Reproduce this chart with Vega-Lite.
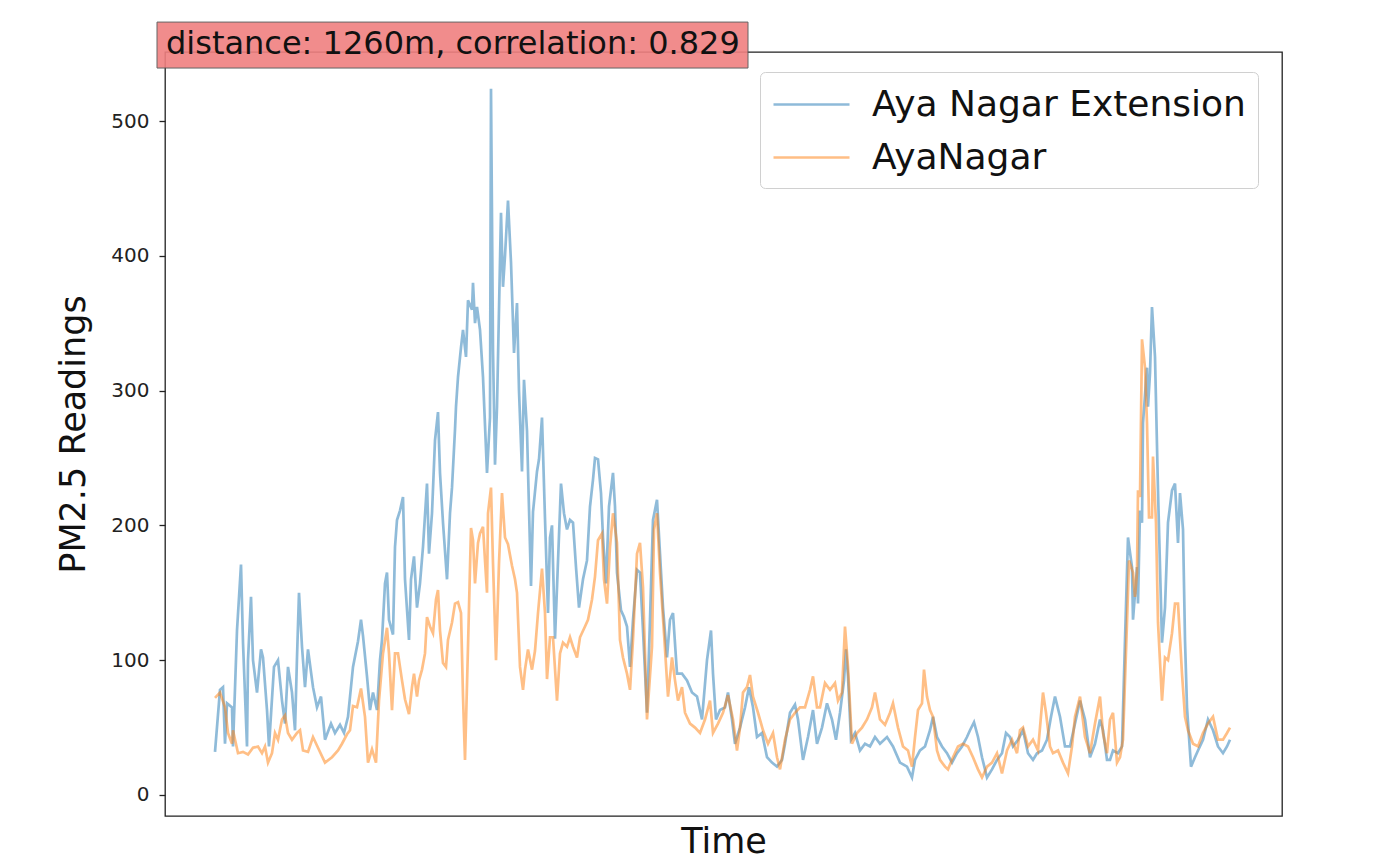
{
  "$schema": "https://vega.github.io/schema/vega-lite/v6.json",
  "width": 1117,
  "height": 764,
  "autosize": {"type": "none"},
  "padding": {"left": 165, "top": 52, "right": 102, "bottom": 52},
  "background": "white",
  "config": {"view": {"stroke": "#222", "strokeWidth": 1.3}, "font": "DejaVu Sans"},
  "datasets": {
    "ext": [
      {"t":2,"pm":32},{"t":7,"pm":78},{"t":10,"pm":80},{"t":12,"pm":38},{"t":14,"pm":68},{"t":19,"pm":65},{"t":20,"pm":36},{"t":24,"pm":122},{"t":28,"pm":171},{"t":30,"pm":113},{"t":34,"pm":36},{"t":35,"pm":100},{"t":38,"pm":147},{"t":40,"pm":100},{"t":44,"pm":76},{"t":48,"pm":108},{"t":50,"pm":102},{"t":54,"pm":63},{"t":56,"pm":36},{"t":61,"pm":95},{"t":65,"pm":100},{"t":69,"pm":70},{"t":72,"pm":53},{"t":75,"pm":95},{"t":79,"pm":76},{"t":82,"pm":48},{"t":84,"pm":102},{"t":86,"pm":150},{"t":89,"pm":110},{"t":92,"pm":80},{"t":95,"pm":108},{"t":100,"pm":80},{"t":104,"pm":65},{"t":108,"pm":73},{"t":112,"pm":41},{"t":118,"pm":53},{"t":122,"pm":46},{"t":127,"pm":52},{"t":131,"pm":46},{"t":135,"pm":58},{"t":140,"pm":95},{"t":145,"pm":114},{"t":148,"pm":130},{"t":150,"pm":118},{"t":154,"pm":88},{"t":157,"pm":63},{"t":160,"pm":76},{"t":164,"pm":63},{"t":167,"pm":100},{"t":169,"pm":115},{"t":172,"pm":157},{"t":174,"pm":165},{"t":176,"pm":130},{"t":180,"pm":119},{"t":182,"pm":184},{"t":184,"pm":204},{"t":187,"pm":211},{"t":190,"pm":221},{"t":192,"pm":160},{"t":196,"pm":115},{"t":198,"pm":160},{"t":201,"pm":177},{"t":204,"pm":139},{"t":207,"pm":157},{"t":210,"pm":184},{"t":214,"pm":231},{"t":216,"pm":179},{"t":219,"pm":209},{"t":222,"pm":263},{"t":225,"pm":284},{"t":227,"pm":239},{"t":230,"pm":202},{"t":234,"pm":160},{"t":237,"pm":209},{"t":239,"pm":228},{"t":242,"pm":271},{"t":243,"pm":288},{"t":245,"pm":310},{"t":248,"pm":332},{"t":250,"pm":345},{"t":253,"pm":325},{"t":255,"pm":367},{"t":259,"pm":360},{"t":260,"pm":380},{"t":262,"pm":350},{"t":264,"pm":362},{"t":267,"pm":345},{"t":270,"pm":310},{"t":274,"pm":239},{"t":277,"pm":280},{"t":278,"pm":524},{"t":280,"pm":330},{"t":282,"pm":245},{"t":284,"pm":288},{"t":288,"pm":432},{"t":290,"pm":377},{"t":292,"pm":400},{"t":295,"pm":441},{"t":298,"pm":395},{"t":301,"pm":328},{"t":304,"pm":365},{"t":306,"pm":300},{"t":309,"pm":240},{"t":311,"pm":308},{"t":314,"pm":270},{"t":318,"pm":155},{"t":320,"pm":210},{"t":324,"pm":240},{"t":326,"pm":249},{"t":329,"pm":280},{"t":332,"pm":205},{"t":335,"pm":135},{"t":337,"pm":191},{"t":339,"pm":200},{"t":342,"pm":116},{"t":344,"pm":154},{"t":348,"pm":231},{"t":351,"pm":209},{"t":354,"pm":197},{"t":357,"pm":204},{"t":360,"pm":202},{"t":363,"pm":169},{"t":366,"pm":139},{"t":370,"pm":160},{"t":374,"pm":174},{"t":377,"pm":214},{"t":380,"pm":234},{"t":382,"pm":250},{"t":385,"pm":249},{"t":388,"pm":224},{"t":390,"pm":191},{"t":393,"pm":157},{"t":396,"pm":214},{"t":400,"pm":239},{"t":402,"pm":214},{"t":404,"pm":165},{"t":408,"pm":137},{"t":411,"pm":132},{"t":414,"pm":125},{"t":417,"pm":95},{"t":420,"pm":130},{"t":424,"pm":167},{"t":427,"pm":165},{"t":430,"pm":122},{"t":434,"pm":61},{"t":437,"pm":130},{"t":440,"pm":204},{"t":444,"pm":219},{"t":447,"pm":179},{"t":450,"pm":139},{"t":454,"pm":102},{"t":457,"pm":130},{"t":460,"pm":135},{"t":464,"pm":90},{"t":469,"pm":90},{"t":474,"pm":85},{"t":479,"pm":76},{"t":484,"pm":73},{"t":489,"pm":56},{"t":494,"pm":100},{"t":498,"pm":122},{"t":500,"pm":90},{"t":503,"pm":56},{"t":507,"pm":63},{"t":512,"pm":65},{"t":515,"pm":76},{"t":519,"pm":56},{"t":522,"pm":38},{"t":527,"pm":50},{"t":532,"pm":65},{"t":536,"pm":80},{"t":540,"pm":65},{"t":544,"pm":43},{"t":549,"pm":46},{"t":554,"pm":28},{"t":559,"pm":24},{"t":564,"pm":21},{"t":569,"pm":26},{"t":572,"pm":38},{"t":577,"pm":61},{"t":582,"pm":67},{"t":585,"pm":56},{"t":590,"pm":26},{"t":595,"pm":43},{"t":600,"pm":63},{"t":604,"pm":38},{"t":609,"pm":50},{"t":614,"pm":68},{"t":619,"pm":56},{"t":623,"pm":41},{"t":627,"pm":61},{"t":631,"pm":85},{"t":633,"pm":108},{"t":635,"pm":88},{"t":638,"pm":41},{"t":642,"pm":46},{"t":647,"pm":33},{"t":652,"pm":38},{"t":657,"pm":36},{"t":662,"pm":43},{"t":667,"pm":38},{"t":674,"pm":43},{"t":680,"pm":36},{"t":687,"pm":24},{"t":694,"pm":21},{"t":699,"pm":13},{"t":702,"pm":26},{"t":707,"pm":33},{"t":712,"pm":36},{"t":717,"pm":48},{"t":720,"pm":58},{"t":724,"pm":43},{"t":729,"pm":36},{"t":734,"pm":31},{"t":739,"pm":24},{"t":744,"pm":31},{"t":749,"pm":36},{"t":754,"pm":43},{"t":757,"pm":48},{"t":761,"pm":54},{"t":765,"pm":43},{"t":769,"pm":28},{"t":774,"pm":13},{"t":779,"pm":19},{"t":784,"pm":26},{"t":789,"pm":31},{"t":793,"pm":46},{"t":797,"pm":43},{"t":800,"pm":36},{"t":805,"pm":41},{"t":810,"pm":48},{"t":815,"pm":31},{"t":820,"pm":26},{"t":824,"pm":31},{"t":829,"pm":33},{"t":834,"pm":41},{"t":838,"pm":58},{"t":842,"pm":73},{"t":847,"pm":58},{"t":852,"pm":36},{"t":857,"pm":36},{"t":862,"pm":53},{"t":867,"pm":70},{"t":872,"pm":56},{"t":877,"pm":28},{"t":882,"pm":38},{"t":887,"pm":56},{"t":890,"pm":48},{"t":894,"pm":26},{"t":897,"pm":26},{"t":900,"pm":33},{"t":905,"pm":31},{"t":909,"pm":36},{"t":912,"pm":115},{"t":915,"pm":191},{"t":919,"pm":169},{"t":920,"pm":130},{"t":924,"pm":169},{"t":925,"pm":142},{"t":927,"pm":211},{"t":929,"pm":202},{"t":930,"pm":276},{"t":934,"pm":317},{"t":935,"pm":288},{"t":937,"pm":313},{"t":939,"pm":362},{"t":942,"pm":325},{"t":945,"pm":226},{"t":949,"pm":113},{"t":952,"pm":139},{"t":955,"pm":202},{"t":959,"pm":226},{"t":962,"pm":231},{"t":965,"pm":187},{"t":967,"pm":224},{"t":970,"pm":197},{"t":972,"pm":115},{"t":974,"pm":65},{"t":978,"pm":21},{"t":982,"pm":28},{"t":985,"pm":33},{"t":990,"pm":41},{"t":995,"pm":56},{"t":1000,"pm":48},{"t":1005,"pm":36},{"t":1010,"pm":31},{"t":1014,"pm":36},{"t":1017,"pm":41}
    ],
    "aya": [
      {"t":2,"pm":72},{"t":7,"pm":76},{"t":12,"pm":65},{"t":15,"pm":46},{"t":19,"pm":38},{"t":20,"pm":48},{"t":25,"pm":31},{"t":30,"pm":32},{"t":35,"pm":30},{"t":40,"pm":35},{"t":45,"pm":36},{"t":49,"pm":31},{"t":52,"pm":36},{"t":55,"pm":24},{"t":59,"pm":31},{"t":62,"pm":46},{"t":65,"pm":41},{"t":69,"pm":56},{"t":72,"pm":59},{"t":75,"pm":46},{"t":79,"pm":41},{"t":84,"pm":46},{"t":87,"pm":48},{"t":90,"pm":33},{"t":95,"pm":32},{"t":100,"pm":43},{"t":105,"pm":35},{"t":112,"pm":24},{"t":119,"pm":28},{"t":125,"pm":33},{"t":129,"pm":38},{"t":134,"pm":45},{"t":137,"pm":48},{"t":140,"pm":66},{"t":144,"pm":65},{"t":148,"pm":79},{"t":152,"pm":58},{"t":155,"pm":24},{"t":159,"pm":34},{"t":163,"pm":24},{"t":166,"pm":70},{"t":170,"pm":105},{"t":174,"pm":124},{"t":176,"pm":105},{"t":179,"pm":63},{"t":182,"pm":105},{"t":185,"pm":105},{"t":189,"pm":85},{"t":192,"pm":71},{"t":196,"pm":60},{"t":199,"pm":80},{"t":201,"pm":90},{"t":204,"pm":73},{"t":206,"pm":85},{"t":209,"pm":93},{"t":212,"pm":105},{"t":214,"pm":132},{"t":217,"pm":125},{"t":220,"pm":120},{"t":223,"pm":145},{"t":225,"pm":152},{"t":227,"pm":122},{"t":230,"pm":98},{"t":233,"pm":95},{"t":235,"pm":115},{"t":239,"pm":128},{"t":242,"pm":142},{"t":245,"pm":143},{"t":248,"pm":135},{"t":250,"pm":73},{"t":252,"pm":26},{"t":255,"pm":110},{"t":258,"pm":198},{"t":260,"pm":189},{"t":262,"pm":157},{"t":265,"pm":187},{"t":267,"pm":194},{"t":270,"pm":199},{"t":272,"pm":174},{"t":274,"pm":150},{"t":275,"pm":209},{"t":278,"pm":228},{"t":280,"pm":172},{"t":283,"pm":100},{"t":286,"pm":172},{"t":289,"pm":224},{"t":292,"pm":191},{"t":295,"pm":186},{"t":299,"pm":170},{"t":302,"pm":160},{"t":304,"pm":150},{"t":307,"pm":95},{"t":310,"pm":78},{"t":312,"pm":93},{"t":315,"pm":108},{"t":319,"pm":93},{"t":322,"pm":107},{"t":325,"pm":135},{"t":329,"pm":168},{"t":332,"pm":135},{"t":334,"pm":86},{"t":337,"pm":117},{"t":340,"pm":117},{"t":344,"pm":70},{"t":347,"pm":105},{"t":350,"pm":113},{"t":354,"pm":110},{"t":357,"pm":117},{"t":360,"pm":110},{"t":364,"pm":102},{"t":367,"pm":117},{"t":372,"pm":125},{"t":375,"pm":130},{"t":379,"pm":145},{"t":382,"pm":162},{"t":385,"pm":189},{"t":389,"pm":194},{"t":391,"pm":160},{"t":394,"pm":142},{"t":397,"pm":184},{"t":400,"pm":209},{"t":404,"pm":187},{"t":407,"pm":115},{"t":410,"pm":102},{"t":414,"pm":90},{"t":417,"pm":78},{"t":420,"pm":115},{"t":424,"pm":179},{"t":427,"pm":187},{"t":430,"pm":154},{"t":434,"pm":56},{"t":439,"pm":110},{"t":441,"pm":197},{"t":444,"pm":209},{"t":447,"pm":165},{"t":451,"pm":120},{"t":455,"pm":73},{"t":459,"pm":102},{"t":462,"pm":85},{"t":465,"pm":70},{"t":469,"pm":80},{"t":472,"pm":61},{"t":477,"pm":53},{"t":482,"pm":50},{"t":487,"pm":46},{"t":492,"pm":56},{"t":497,"pm":70},{"t":500,"pm":46},{"t":505,"pm":53},{"t":510,"pm":61},{"t":515,"pm":74},{"t":520,"pm":56},{"t":524,"pm":33},{"t":527,"pm":50},{"t":530,"pm":76},{"t":534,"pm":80},{"t":537,"pm":89},{"t":540,"pm":73},{"t":545,"pm":61},{"t":550,"pm":48},{"t":555,"pm":38},{"t":560,"pm":46},{"t":564,"pm":28},{"t":567,"pm":19},{"t":572,"pm":41},{"t":577,"pm":56},{"t":582,"pm":61},{"t":587,"pm":65},{"t":592,"pm":65},{"t":597,"pm":78},{"t":600,"pm":88},{"t":604,"pm":65},{"t":607,"pm":65},{"t":612,"pm":83},{"t":617,"pm":78},{"t":622,"pm":83},{"t":625,"pm":70},{"t":629,"pm":76},{"t":632,"pm":125},{"t":635,"pm":95},{"t":639,"pm":38},{"t":644,"pm":46},{"t":649,"pm":50},{"t":654,"pm":56},{"t":659,"pm":65},{"t":662,"pm":76},{"t":667,"pm":56},{"t":672,"pm":52},{"t":677,"pm":61},{"t":680,"pm":68},{"t":685,"pm":50},{"t":690,"pm":36},{"t":695,"pm":33},{"t":699,"pm":21},{"t":702,"pm":43},{"t":705,"pm":63},{"t":709,"pm":68},{"t":711,"pm":93},{"t":714,"pm":73},{"t":717,"pm":63},{"t":720,"pm":58},{"t":724,"pm":33},{"t":727,"pm":26},{"t":732,"pm":21},{"t":735,"pm":19},{"t":740,"pm":28},{"t":745,"pm":36},{"t":750,"pm":38},{"t":755,"pm":36},{"t":760,"pm":28},{"t":765,"pm":19},{"t":769,"pm":13},{"t":774,"pm":21},{"t":779,"pm":24},{"t":784,"pm":31},{"t":789,"pm":16},{"t":794,"pm":33},{"t":799,"pm":41},{"t":804,"pm":31},{"t":807,"pm":48},{"t":810,"pm":50},{"t":815,"pm":36},{"t":820,"pm":41},{"t":825,"pm":33},{"t":830,"pm":76},{"t":833,"pm":61},{"t":837,"pm":36},{"t":840,"pm":31},{"t":845,"pm":33},{"t":850,"pm":24},{"t":855,"pm":16},{"t":859,"pm":36},{"t":862,"pm":58},{"t":867,"pm":73},{"t":872,"pm":43},{"t":877,"pm":31},{"t":882,"pm":53},{"t":887,"pm":73},{"t":890,"pm":46},{"t":894,"pm":31},{"t":897,"pm":56},{"t":900,"pm":61},{"t":904,"pm":24},{"t":907,"pm":28},{"t":910,"pm":41},{"t":914,"pm":128},{"t":916,"pm":174},{"t":920,"pm":165},{"t":922,"pm":147},{"t":924,"pm":165},{"t":925,"pm":226},{"t":927,"pm":221},{"t":929,"pm":338},{"t":932,"pm":317},{"t":934,"pm":276},{"t":936,"pm":206},{"t":939,"pm":206},{"t":940,"pm":251},{"t":943,"pm":202},{"t":945,"pm":128},{"t":949,"pm":70},{"t":952,"pm":102},{"t":955,"pm":100},{"t":959,"pm":120},{"t":962,"pm":142},{"t":965,"pm":142},{"t":969,"pm":90},{"t":972,"pm":58},{"t":975,"pm":48},{"t":980,"pm":38},{"t":985,"pm":36},{"t":990,"pm":46},{"t":995,"pm":53},{"t":1000,"pm":58},{"t":1005,"pm":41},{"t":1010,"pm":41},{"t":1014,"pm":46},{"t":1017,"pm":50}
    ]
  },
  "layer": [
    {
      "data": {"name": "ext"},
      "mark": {"type": "line", "strokeWidth": 2.7, "opacity": 0.5},
      "encoding": {
        "x": {"field": "t", "type": "quantitative",
              "scale": {"domain": [-48, 1069], "nice": false, "zero": false},
              "axis": {"ticks": false, "labels": false, "domain": false, "grid": false,
                       "title": "Time", "titleFontSize": 35, "titleFont": "DejaVu Sans",
                       "titleFontWeight": "normal", "titleColor": "#111", "titlePadding": 8}},
        "y": {"field": "pm", "type": "quantitative",
              "scale": {"domain": [-15.6, 551.2], "nice": false, "zero": false},
              "axis": {"values": [0, 100, 200, 300, 400, 500], "title": "PM2.5 Readings",
                       "titleFontSize": 35, "titleFont": "DejaVu Sans", "titleFontWeight": "normal",
                       "titleColor": "#111", "titlePadding": 19, "labelFontSize": 20,
                       "labelFont": "DejaVu Sans", "labelColor": "#222", "labelPadding": 10,
                       "tickSize": 6, "tickColor": "#222", "tickWidth": 1.3,
                       "domain": false, "grid": false}},
        "color": {"datum": "Aya Nagar Extension", "type": "nominal",
                  "scale": {"domain": ["Aya Nagar Extension", "AyaNagar"], "range": ["#1f77b4", "#ff7f0e"]},
                  "legend": {"title": null, "orient": "none", "legendX": 595, "legendY": 20,
                             "labelFontSize": 36, "labelFont": "DejaVu Sans", "labelColor": "#111",
                             "symbolType": "M-1,0H3", "symbolSize": 1444, "symbolStrokeWidth": 2.7,
                             "symbolOpacity": 0.5, "symbolFillColor": "transparent", "padding": 12, "fillColor": "white",
                             "strokeColor": "#d0d0d0", "cornerRadius": 5, "rowPadding": 14,
                             "labelOffset": 59, "labelLimit": 0}}
      }
    },
    {
      "data": {"name": "aya"},
      "mark": {"type": "line", "strokeWidth": 2.7, "opacity": 0.5},
      "encoding": {
        "x": {"field": "t", "type": "quantitative"},
        "y": {"field": "pm", "type": "quantitative"},
        "color": {"datum": "AyaNagar", "type": "nominal"}
      }
    },
    {
      "data": {"values": [{}]},
      "mark": {"type": "rect", "fill": "#f08080", "opacity": 0.9, "stroke": "#555", "strokeWidth": 1},
      "encoding": {"x": {"datum": -56}, "x2": {"datum": 535}, "y": {"datum": 573.4}, "y2": {"datum": 539.3}}
    },
    {
      "data": {"values": [{}]},
      "mark": {"type": "text", "align": "left", "baseline": "alphabetic", "fontSize": 32,
               "font": "DejaVu Sans", "color": "#111"},
      "encoding": {"x": {"datum": -47}, "y": {"datum": 550},
                   "text": {"value": "distance: 1260m, correlation: 0.829"}}
    }
  ]
}
